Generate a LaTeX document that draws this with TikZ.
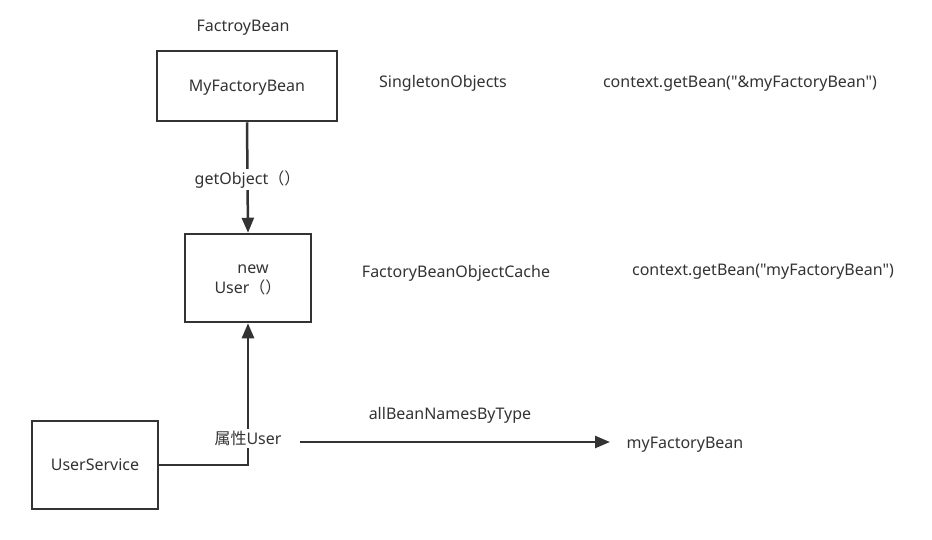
\documentclass[tikz,border=0pt]{standalone}
\usepackage{fontspec}
\newfontfamily\plain{Noto Sans}
\newfontfamily\cjk{Noto Sans CJK SC}
\usetikzlibrary{arrows.meta}
\definecolor{ink}{HTML}{333333}
\begin{document}
\begin{tikzpicture}[x=1pt,y=-1pt,
  every node/.style={font=\plain\fontsize{16}{20}\selectfont, text=ink},
  box/.style={draw=ink, line width=2.5pt, minimum width=#1, inner sep=0pt, align=center},
  tx/.style={anchor=base},
  conn/.style={draw=ink, line width=2.5pt, -{Triangle[length=15pt,width=12pt]}},
  lbl/.style={fill=white, inner sep=2pt, yshift=-2pt}]
\useasboundingbox (0,0) rectangle (932,539);
\node[tx] (fb) at (243,31) {FactroyBean};
\node[box=180pt, minimum height=70pt, text height=15.4pt, text depth=4pt] (mfb) at (247,86) {MyFactoryBean};
\node[box=126pt, minimum height=88pt, text height=34pt, text depth=4pt] (nu) at (248,278) {\hspace*{10pt}new\\User{\cjk （）}};
\node[box=126pt, minimum height=88pt, text height=15.4pt, text depth=4pt] (us) at (95,465) {UserService};
\node[tx] (so) at (443,87) {SingletonObjects};
\node[tx] (c1) at (740,87) {context.getBean("\&myFactoryBean")};
\node[tx] (fc) at (456,277) {FactoryBeanObjectCache};
\node[tx] (c2) at (763,275) {context.getBean("myFactoryBean")};
\node[tx] (ab) at (450,419) {allBeanNamesByType};
\node[tx] (mf) at (685,448) {myFactoryBean};
\coordinate (corner) at (nu.south |- us.east);
\coordinate (a1) at (300,442);
\coordinate (a2) at (610,442);
\draw[conn] (mfb.south) -- node[lbl] {getObject{\cjk （）}} (nu.north);
\draw[conn] (us.east) -- (corner) -- node[lbl, pos=0.2] {{\cjk 属性}User} (nu.south);
\draw[conn] (a1) -- (a2);
\end{tikzpicture}
\end{document}
